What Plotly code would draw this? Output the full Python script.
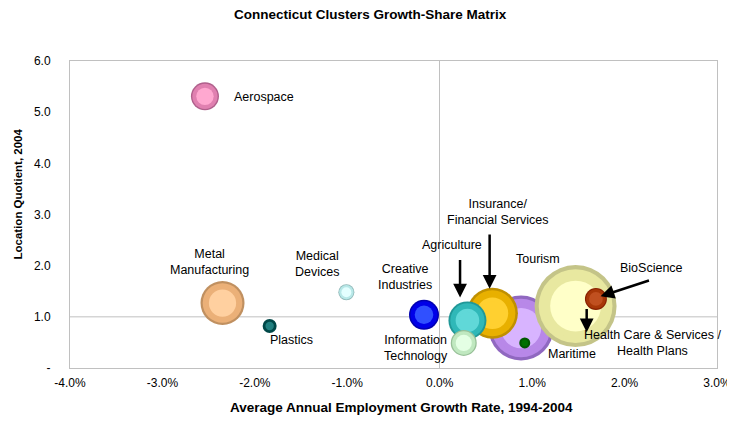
import plotly.graph_objects as go

# ---- data ----
clusters = ["Maritime bubble", "Tourism bubble", "Insurance/Financial Services", "Agriculture",
            "Information Technology", "Creative Industries", "Maritime", "BioScience",
            "Aerospace", "Metal Manufacturing", "Plastics", "Medical Devices"]
growth = [0.88, 1.47, 0.57, 0.30, 0.26, -0.17, 0.92, 1.69, -2.54, -2.35, -1.84, -1.01]
lq = [0.78, 1.21, 1.07, 0.93, 0.49, 1.04, 0.49, 1.35, 5.31, 1.27, 0.82, 1.48]
bubble_px = [65, 82, 51, 38, 26, 30, 11, 22, 28, 44, 14, 16]
dark = ["#9068C0", "#C4C488", "#C09000", "#209898", "#98C098", "#0000B0", "#005800", "#882000",
        "#B0608C", "#C09060", "#004848", "#90B8B8"]
mid = ["#B888E8", "#E8E8A0", "#E8B000", "#30B8B8", "#C0E8C0", "#0000E8", "#006600", "#A83808",
       "#E080B0", "#EBB078", "#006666", "#B8E8E8"]
light = ["#D8B4FF", "#FFFFC8", "#FFD030", "#60D8D8", "#E4FFE4", "#3050FF", "#007000", "#C05020",
         "#FFA8D0", "#FFD0A0", "#208080", "#E4FFFF"]

x_ticks = [-4, -3, -2, -1, 0, 1, 2, 3]
x_ticktext = ["-4.0%", "-3.0%", "-2.0%", "-1.0%", "0.0%", "1.0%", "2.0%", "3.0%"]
y_ticks = [0, 1, 2, 3, 4, 5, 6]
y_ticktext = ["-", "1.0", "2.0", "3.0", "4.0", "5.0", "6.0"]

# label text, x, y
labels = [
    ("Aerospace", -2.25, 5.29, "left"),
    ("Metal<br>Manufacturing", -2.49, 2.07, "center"),
    ("Medical<br>Devices", -1.33, 2.04, "center"),
    ("Plastics", -1.60, 0.55, "center"),
    ("Creative<br>Industries", -0.38, 1.78, "center"),
    ("Information<br>Technology", -0.26, 0.39, "center"),
    ("Agriculture", 0.13, 2.40, "center"),
    ("Insurance/<br>Financial Services", 0.62, 3.05, "center"),
    ("Tourism", 1.06, 2.13, "center"),
    ("BioScience", 2.29, 1.95, "center"),
    ("Health Care & Services /<br>Health Plans", 2.30, 0.49, "center"),
    ("Maritime", 1.43, 0.27, "center"),
]
# arrows: tail x, tail y, head x, head y
arrows = [
    (0.22, 2.14, 0.22, 1.38),
    (0.54, 2.64, 0.54, 1.55),
    (2.28, 1.72, 1.74, 1.40),
    (1.59, 1.18, 1.59, 0.70),
]

FONT = "Liberation Sans, Arial, sans-serif"
fig = go.Figure()

fracs = [1.0, 0.9, 0.78, 0.62, 0.45]
for i, name in enumerate(clusters):
    s = bubble_px[i]
    cols = [dark[i], mid[i], mid[i], light[i], light[i]]
    if s < 15:
        sizes = [s, s * 0.6]
        cols = [dark[i], light[i]]
    else:
        sizes = [s * f for f in fracs]
    fig.add_trace(go.Scatter(
        x=[growth[i]] * len(sizes), y=[lq[i]] * len(sizes), mode="markers",
        marker=dict(size=sizes, color=cols, line=dict(width=0), opacity=1),
        name=name, showlegend=False, hoverinfo="skip"))

for t, x, y, al in labels:
    fig.add_annotation(x=x, y=y, text=t, showarrow=False, xanchor=al,
                       font=dict(family=FONT, size=12.5, color="#000"))

for tx, ty, hx, hy in arrows:
    fig.add_annotation(x=hx, y=hy, ax=tx, ay=ty, xref="x", yref="y", axref="x", ayref="y",
                       text="", showarrow=True, arrowhead=2, arrowsize=1.1, arrowwidth=2.5,
                       arrowcolor="#000")

fig.add_hline(y=1, line=dict(color="#C0C0C0", width=1), layer="below")

# axis titles placed as annotations (match reference positions)
fig.add_annotation(text="<b>Location Quotient, 2004</b>", xref="paper", yref="paper",
                   x=-0.0934, y=0.567, textangle=-90, showarrow=False,
                   font=dict(family=FONT, size=11.5, color="#000"))
fig.add_annotation(text="<b>Average Annual Employment Growth Rate, 1994-2004</b>",
                   xref="paper", yref="paper", x=0.512, y=-0.130, yanchor="middle",
                   showarrow=False, font=dict(family=FONT, size=13.5, color="#000"))

# page has an 8px body margin: figure is sized/margined to compensate
fig.update_layout(
    width=727, height=417,
    margin=dict(l=62, r=18, t=53, b=57, autoexpand=False),
    paper_bgcolor="white", plot_bgcolor="white",
    font=dict(family=FONT, size=12, color="#000"),
    title=dict(text="<b>Connecticut Clusters Growth-Share Matrix</b>", x=0.498, xanchor="center",
               y=1 - 6 / 417, yanchor="middle", font=dict(size=13.5)),
    xaxis=dict(range=[-4, 3], tickvals=x_ticks, ticktext=x_ticktext, showgrid=False,
               zeroline=True, zerolinecolor="#C0C0C0", zerolinewidth=1, automargin=False,
               showline=True, linecolor="#C0C0C0", mirror=True, ticks="",
               ticklabelstandoff=4, tickfont=dict(size=12)),
    yaxis=dict(range=[0, 6], tickvals=y_ticks, ticktext=y_ticktext, showgrid=False,
               zeroline=False, showline=True, linecolor="#C0C0C0", mirror=True, ticks="",
               ticklabelstandoff=16, automargin=False, tickfont=dict(size=12)),
)

fig.write_html("out.html")
